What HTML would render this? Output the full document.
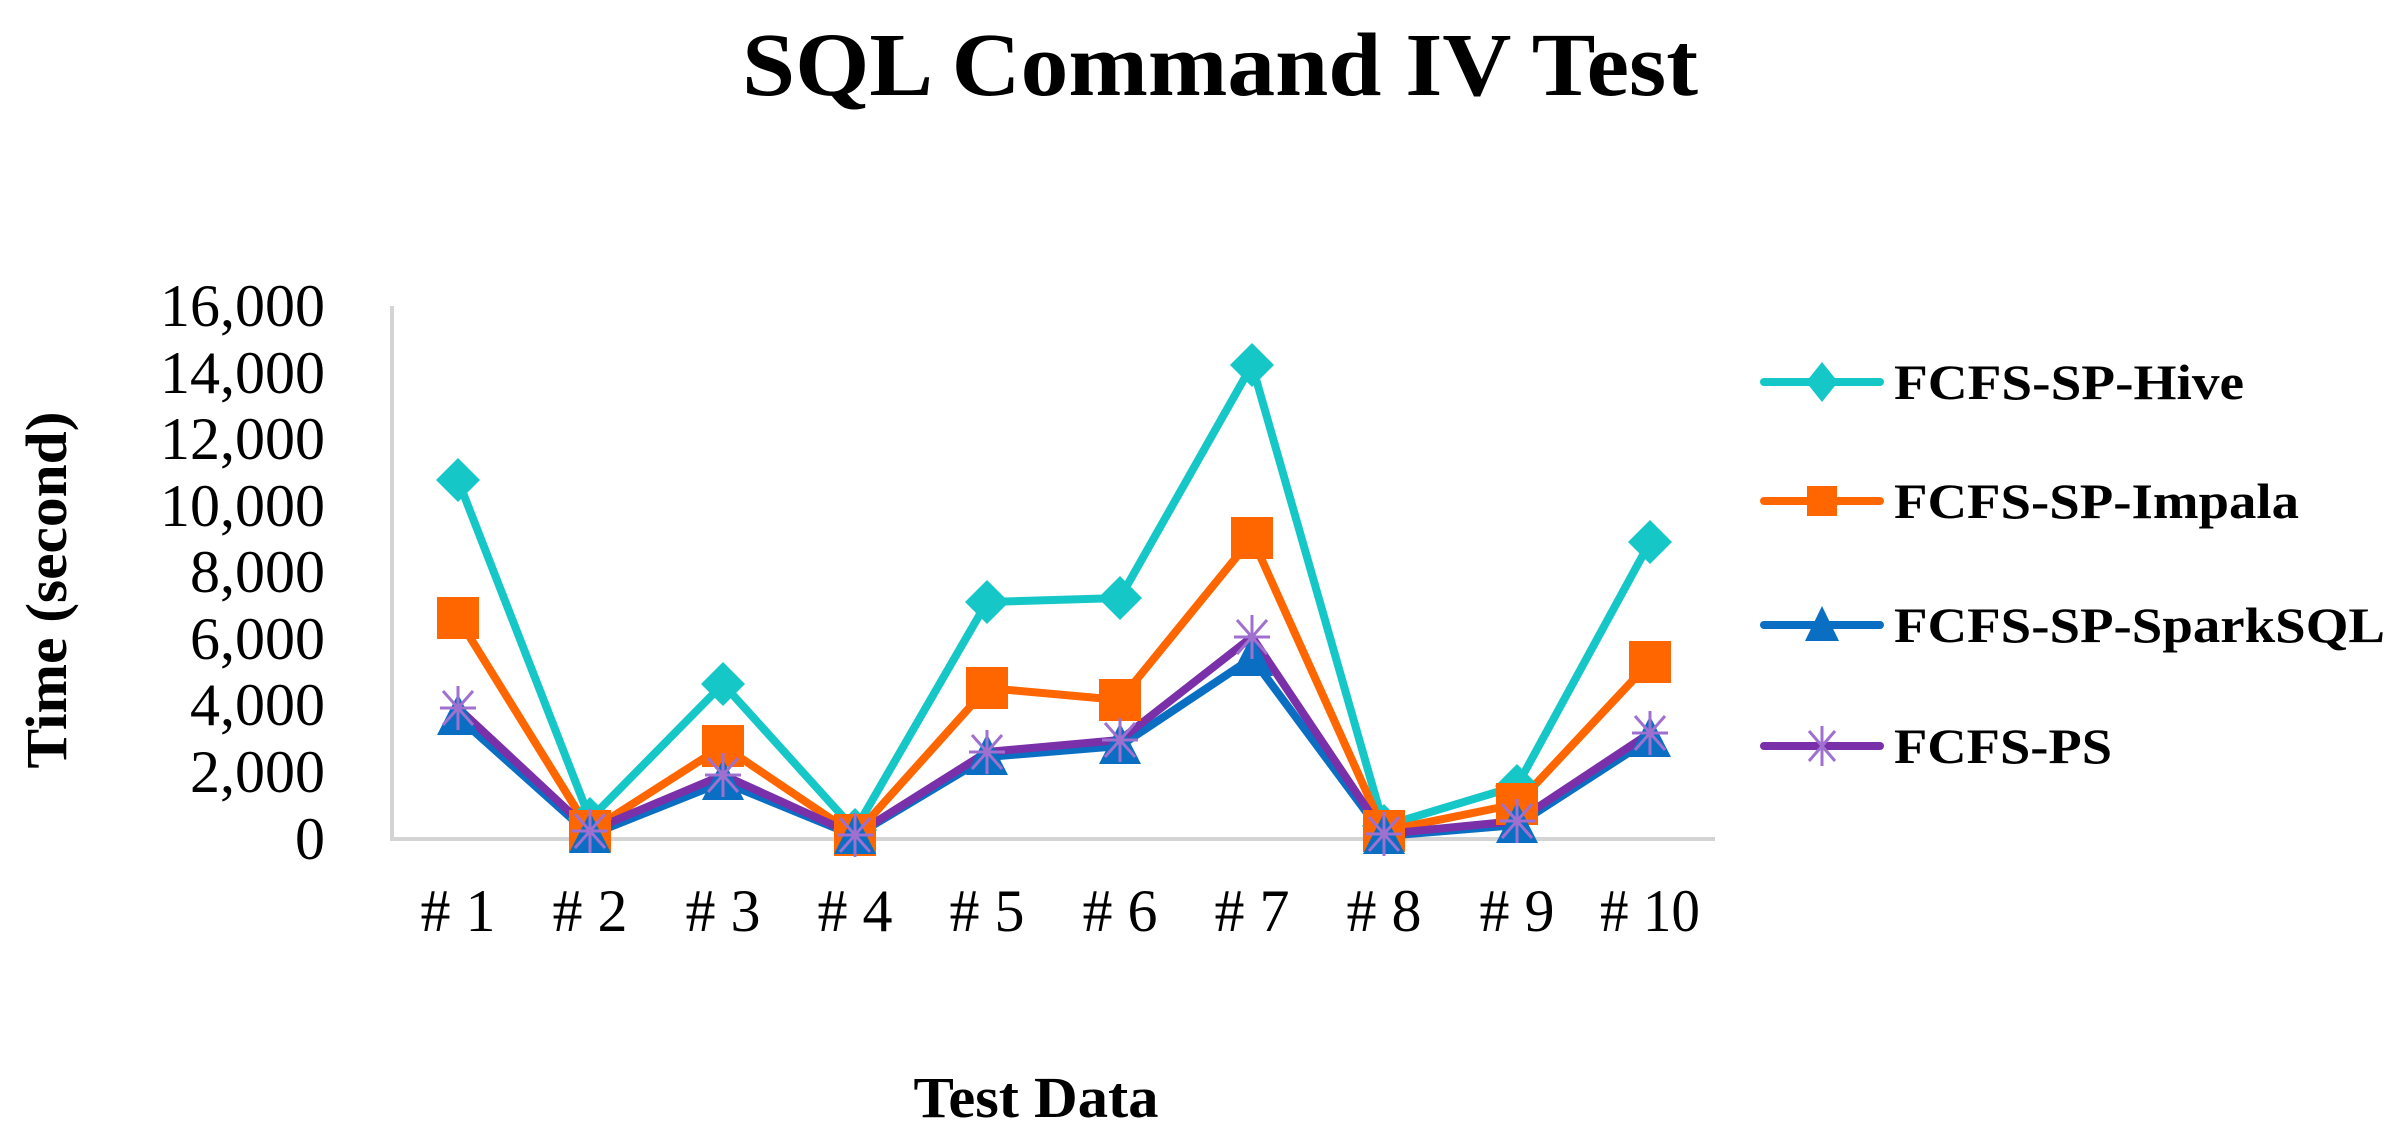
<!DOCTYPE html>
<html><head><meta charset="utf-8"><style>html,body{margin:0;padding:0;background:#fff}svg{display:block}</style></head>
<body>
<svg width="2401" height="1141" viewBox="0 0 2401 1141" xmlns="http://www.w3.org/2000/svg" font-family="'Liberation Serif', serif">
<defs>
<g id="dia"><polygon points="0,-22 22,0 0,22 -22,0" fill="#16c7c8"/></g>
<g id="sq"><rect x="-21" y="-21" width="42" height="42" fill="#ff6600"/></g>
<g id="tri"><polygon points="0,-23 21,18 -21,18" fill="#0a6fc2"/></g>
<g id="ast" stroke="#a070d0" stroke-width="3"><line x1="-18" y1="0" x2="18" y2="0"/><line x1="0" y1="-22" x2="0" y2="22"/><line x1="-15" y1="-17" x2="15" y2="17"/><line x1="-15" y1="17" x2="15" y2="-17"/></g>
</defs>
<text x="1220" y="95" font-size="90" font-weight="bold" text-anchor="middle" textLength="956" lengthAdjust="spacingAndGlyphs">SQL Command IV Test</text>
<g font-size="60" text-anchor="end">
<text x="325" y="326">16,000</text><text x="325" y="393">14,000</text><text x="325" y="459">12,000</text><text x="325" y="526">10,000</text><text x="325" y="592">8,000</text><text x="325" y="659">6,000</text><text x="325" y="725">4,000</text><text x="325" y="792">2,000</text><text x="325" y="859">0</text>
</g>
<text transform="translate(66,590) rotate(-90)" font-size="58" font-weight="bold" text-anchor="middle" textLength="357" lengthAdjust="spacingAndGlyphs">Time  (second)</text>
<line x1="392" y1="306" x2="392" y2="840" stroke="#d4d4d4" stroke-width="4"/>
<line x1="390" y1="839" x2="1715" y2="839" stroke="#d4d4d4" stroke-width="4"/>
<g font-size="60" text-anchor="middle">
<text x="458" y="931"># 1</text><text x="590" y="931"># 2</text><text x="723" y="931"># 3</text><text x="855" y="931"># 4</text><text x="987" y="931"># 5</text><text x="1120" y="931"># 6</text><text x="1252" y="931"># 7</text><text x="1384" y="931"># 8</text><text x="1517" y="931"># 9</text><text x="1650" y="931" textLength="100" lengthAdjust="spacingAndGlyphs"># 10</text>
</g>
<text x="1036" y="1117" font-size="58" font-weight="bold" text-anchor="middle" textLength="245" lengthAdjust="spacingAndGlyphs">Test Data</text>
<g fill="none" stroke-width="8" stroke-linejoin="round">
<polyline stroke="#16c7c8" points="458,480 590,819 723,684 855,830 987,602 1120,598 1252,365 1384,826 1517,786 1650,542"/>
<polyline stroke="#ff6600" points="458,618 590,831 723,746 855,835 987,688 1120,700 1252,538 1384,831 1517,804 1650,662"/>
<polyline stroke="#0a6fc2" points="458,717 590,835 723,782 855,836 987,757 1120,746 1252,658 1384,836 1517,825 1650,739"/>
<polyline stroke="#7a30a8" points="458,708 590,831 723,775 855,835 987,752 1120,740 1252,637 1384,834 1517,821 1650,733"/>
</g>
<g>
<use href="#dia" x="458" y="480"/><use href="#dia" x="590" y="819"/><use href="#dia" x="723" y="684"/><use href="#dia" x="855" y="830"/><use href="#dia" x="987" y="602"/><use href="#dia" x="1120" y="598"/><use href="#dia" x="1252" y="365"/><use href="#dia" x="1384" y="826"/><use href="#dia" x="1517" y="786"/><use href="#dia" x="1650" y="542"/>
<use href="#sq" x="458" y="618"/><use href="#sq" x="590" y="831"/><use href="#sq" x="723" y="746"/><use href="#sq" x="855" y="835"/><use href="#sq" x="987" y="688"/><use href="#sq" x="1120" y="700"/><use href="#sq" x="1252" y="538"/><use href="#sq" x="1384" y="831"/><use href="#sq" x="1517" y="804"/><use href="#sq" x="1650" y="662"/>
<use href="#tri" x="458" y="717"/><use href="#tri" x="590" y="835"/><use href="#tri" x="723" y="782"/><use href="#tri" x="855" y="836"/><use href="#tri" x="987" y="757"/><use href="#tri" x="1120" y="746"/><use href="#tri" x="1252" y="658"/><use href="#tri" x="1384" y="836"/><use href="#tri" x="1517" y="825"/><use href="#tri" x="1650" y="739"/>
<use href="#ast" x="458" y="708"/><use href="#ast" x="590" y="831"/><use href="#ast" x="723" y="775"/><use href="#ast" x="855" y="835"/><use href="#ast" x="987" y="752"/><use href="#ast" x="1120" y="740"/><use href="#ast" x="1252" y="637"/><use href="#ast" x="1384" y="834"/><use href="#ast" x="1517" y="821"/><use href="#ast" x="1650" y="733"/>
</g>
<g stroke-width="8" stroke-linecap="round">
<line x1="1764" y1="382" x2="1880" y2="382" stroke="#16c7c8"/>
<line x1="1764" y1="501" x2="1880" y2="501" stroke="#ff6600"/>
<line x1="1764" y1="625" x2="1880" y2="625" stroke="#0a6fc2"/>
<line x1="1764" y1="746" x2="1880" y2="746" stroke="#7a30a8"/>
</g>
<polygon points="1822,362 1838,382 1822,402 1806,382" fill="#16c7c8"/>
<rect x="1807" y="486" width="30" height="30" fill="#ff6600"/>
<polygon points="1822,606 1839,641 1805,641" fill="#0a6fc2"/>
<g stroke="#a070d0" stroke-width="3"><line x1="1822" y1="726" x2="1822" y2="766"/><line x1="1809" y1="731" x2="1835" y2="761"/><line x1="1809" y1="761" x2="1835" y2="731"/></g>
<g font-size="50" font-weight="bold">
<text x="1894" y="399" textLength="350" lengthAdjust="spacingAndGlyphs">FCFS-SP-Hive</text>
<text x="1894" y="518" textLength="405" lengthAdjust="spacingAndGlyphs">FCFS-SP-Impala</text>
<text x="1894" y="642" textLength="491" lengthAdjust="spacingAndGlyphs">FCFS-SP-SparkSQL</text>
<text x="1894" y="763" textLength="218" lengthAdjust="spacingAndGlyphs">FCFS-PS</text>
</g>
</svg>
</body></html>
